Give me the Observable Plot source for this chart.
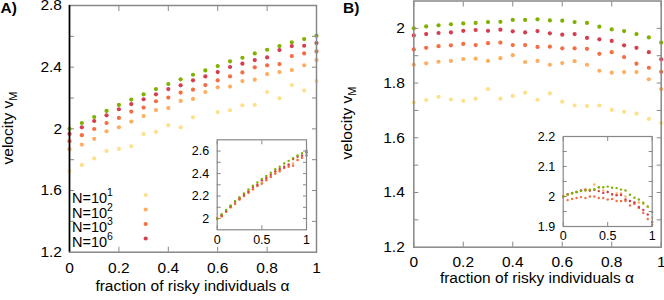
<!DOCTYPE html>
<html><head><meta charset="utf-8">
<script src="https://cdn.jsdelivr.net/npm/d3@7"></script>
<script src="https://cdn.jsdelivr.net/npm/@observablehq/plot@0.6"></script>
<style>
body{margin:0;background:#fff;font-family:"Liberation Sans",Arial,sans-serif;}
#wrap{position:relative;width:664px;height:300px;overflow:hidden;}
#wrap > svg{position:absolute;}
</style></head><body><div id="wrap"></div>
<script>
const alpha = [0,0.05,0.1,0.15,0.2,0.25,0.3,0.35,0.4,0.45,0.5,0.55,0.6,0.65,0.7,0.75,0.8,0.85,0.9,0.95,1];
const seriesNames = ["N1","N2","N3","N6","Ninf"];
const seriesColors = ["#fee08b","#fdae61","#f46d43","#d53e4f","#80b000"];
const legendExp = ["1","2","3","6"];

// Panel A
const A_N1 = [1.726,1.766,1.808,1.857,1.870,1.887,1.967,1.980,2.023,2.010,2.075,null,2.109,2.120,2.153,2.155,2.239,2.198,2.284,2.248,2.310];
const A_N2 = [1.868,1.898,1.935,1.984,2.010,2.047,2.083,2.122,2.135,2.181,2.194,2.239,2.269,2.274,2.310,2.319,2.355,2.368,2.381,2.412,2.446];
const A_N3 = [1.920,1.959,1.999,2.038,2.071,2.112,2.138,2.179,2.203,2.235,2.254,2.284,2.315,2.340,2.366,2.399,2.412,2.420,2.472,2.489,2.502];
const A_N6 = [1.967,2.010,2.051,2.088,2.127,2.161,2.192,2.224,2.258,2.282,2.315,2.340,2.368,2.401,2.423,2.446,2.463,2.511,2.537,2.539,2.556];
const A_Ninf = [2.000,2.038,2.077,2.116,2.155,2.190,2.224,2.258,2.291,2.321,2.351,2.379,2.407,2.438,2.461,2.489,2.513,2.537,2.561,2.582,2.604];
// Inset A
const IA_N2 = [2.0,2.02,2.06,2.10,2.13,2.17,2.20,2.23,2.26,2.29,2.32,2.35,2.37,2.40,2.43,2.45,2.47,2.49,2.52,2.54,2.57];
const IA_N3 = [2.0,2.02,2.06,2.10,2.13,2.17,2.20,2.23,2.26,2.29,2.31,2.34,2.37,2.40,2.42,2.45,2.46,2.47,2.52,2.54,2.56];
const IA_N6 = [2.0,2.03,2.07,2.11,2.15,2.18,2.21,2.24,2.28,2.30,2.34,2.36,2.39,2.42,2.44,2.46,2.48,2.53,2.55,2.56,2.59];
const IA_Ninf = [2.000,2.038,2.077,2.116,2.155,2.190,2.224,2.258,2.291,2.321,2.351,2.379,2.407,2.438,2.461,2.489,2.513,2.537,2.561,2.582,2.604];

// Panel B
const B_N1 = [1.729,1.738,1.750,1.740,1.735,1.743,1.778,1.743,1.753,1.765,1.739,1.762,1.732,1.718,1.716,1.718,1.702,1.695,1.688,1.669,1.654];
const B_N2 = [1.867,1.872,1.878,1.881,1.888,1.889,1.881,1.891,1.902,1.877,1.881,1.867,1.873,1.880,1.867,1.845,1.838,1.840,1.840,1.814,1.778];
const B_N3 = [1.923,1.929,1.935,1.938,1.943,1.939,1.946,1.948,1.939,1.939,1.932,1.933,1.927,1.927,1.925,1.907,1.913,1.895,1.871,1.856,1.841];
const B_N6 = [1.974,1.979,1.983,1.985,1.991,1.994,1.991,1.995,1.989,1.985,1.990,1.982,1.977,1.979,1.965,1.960,1.954,1.938,1.929,1.913,1.887];
const B_Ninf = [2.000,2.007,2.011,2.015,2.018,2.020,2.023,2.024,2.031,2.031,2.033,2.029,2.028,2.023,2.020,2.006,1.996,1.990,1.979,1.967,1.948];
// Inset B
const IB_N2 = [2.0,2.005,2.010,2.015,2.020,2.025,2.020,2.040,2.030,2.020,2.015,2.005,2.010,2.010,2.000,1.985,1.980,1.980,1.975,1.965,1.930];
const IB_N3 = [2.0,1.988,1.992,1.995,1.998,1.995,2.000,2.000,1.995,1.995,1.990,1.992,1.985,1.985,1.985,1.970,1.975,1.962,1.945,1.925,1.905];
const IB_N6 = [2.0,2.008,2.012,2.015,2.020,2.022,2.020,2.022,2.018,2.012,2.015,2.008,2.004,2.005,1.990,1.985,1.980,1.965,1.955,1.940,1.915];
const IB_Ninf = [2.000,2.007,2.011,2.015,2.018,2.020,2.023,2.024,2.031,2.031,2.033,2.029,2.028,2.023,2.020,2.006,1.996,1.990,1.979,1.967,1.948];

// tick labels
const mainXTicks = [0,0.2,0.4,0.6,0.8,1];
const A_yLabels = [1.2,1.6,2,2.4,2.8];
const A_yTicks = [1.4,1.6,1.8,2,2.2,2.4,2.6];
const B_yLabels = [1.2,1.4,1.6,1.8,2];
const B_yTicks = [1.3,1.4,1.5,1.6,1.7,1.8,1.9,2];
const IA_xLabels = [0,0.5,1];
const IA_yLabels = [2,2.2,2.4,2.6];
const IA_yTicks = [2,2.1,2.2,2.3,2.4,2.5,2.6];
const IB_xLabels = [0,0.5,1];
const IB_yLabels = [1.9,2,2.1,2.2];
const IB_yTicks = [1.95,2,2.05,2.1,2.15];

function tidy(list) {
  const rows = [];
  list.forEach((arr, s) => {
    if (!arr) return;
    arr.forEach((v, i) => { if (v != null) rows.push({alpha: alpha[i], v, series: seriesNames[s]}); });
  });
  return rows;
}

const FONT = '"Liberation Sans", Arial, sans-serif';
const GRAY = "#888";

function panel(o) {
  const marks = [];
  if (o.inset) marks.push(Plot.frame({fill: "white", stroke: null}));
  marks.push(
    Plot.axisX({anchor: "bottom", ticks: o.xTicks, tickSize: -o.tick, stroke: GRAY, tickFormat: () => "", label: null}),
    Plot.axisX({anchor: "top", ticks: o.xTicks, tickSize: -o.tick, stroke: GRAY, tickFormat: () => "", label: null}),
    Plot.axisY({anchor: "left", ticks: o.yTicks, tickSize: -o.tick, stroke: GRAY, tickFormat: () => "", label: null}),
    Plot.axisY({anchor: "right", ticks: o.yTicks, tickSize: -o.tick, stroke: GRAY, tickFormat: () => "", label: null}),
    Plot.axisX({anchor: "bottom", ticks: o.xLabels, tickSize: 0, tickPadding: o.xPad, tickFormat: d => String(d), label: null, fontSize: o.fs}),
    Plot.axisY({anchor: "left", ticks: o.yLabels, tickSize: 0, tickPadding: o.yPad, tickFormat: d => String(d), label: null, fontSize: o.fs}),
    Plot.dot(o.data, {x: "alpha", y: "v", fill: "series", r: o.r, stroke: null}),
    Plot.frame({stroke: GRAY, strokeWidth: o.frameW})
  );
  if (o.leftBlack) marks.push(Plot.ruleX([0], {stroke: "black", strokeWidth: 1.6}));
  return Plot.plot({
    width: o.width, height: o.height,
    marginLeft: o.ml, marginRight: o.mr, marginTop: o.mt, marginBottom: o.mb,
    x: {domain: [0, 1]},
    y: {domain: o.yDomain},
    color: {domain: seriesNames, range: seriesColors},
    style: {fontFamily: FONT, fontSize: o.fs + "px", color: "black", background: "transparent", overflow: "visible"},
    marks
  });
}

const wrap = document.getElementById("wrap");
function place(svg, left, top) {
  svg.style.left = left + "px";
  svg.style.top = top + "px";
  wrap.appendChild(svg);
  return svg;
}

// Panel A
const pA = place(panel({
  data: tidy([A_N1, A_N2, A_N3, A_N6, A_Ninf]),
  width: 332, height: 300, ml: 69, mr: 16, mt: 5, mb: 48.3,
  yDomain: [1.2, 2.8], xTicks: mainXTicks, xLabels: mainXTicks, yTicks: A_yTicks, yLabels: A_yLabels,
  tick: 5, xPad: 10, yPad: 7.5, fs: 15.5, r: 2.1, frameW: 1.5, leftBlack: true
}), 0, 0);

// Panel B
const pB = place(panel({
  data: tidy([B_N1, B_N2, B_N3, B_N6, B_Ninf]),
  width: 332, height: 300, ml: 81.3, mr: 3.3, mt: 0.5, mb: 53.3,
  yDomain: [1.2, 2.1], xTicks: mainXTicks, xLabels: mainXTicks, yTicks: B_yTicks, yLabels: B_yLabels,
  tick: 5, xPad: 8.5, yPad: 9, fs: 15.5, r: 2.1, frameW: 1.5
}), 332, 0);

// Inset A
place(panel({
  inset: true,
  data: tidy([null, IA_N2, IA_N3, IA_N6, IA_Ninf]),
  width: 130, height: 120, ml: 36.7, mr: 4, mt: 9.3, mb: 20.7,
  yDomain: [1.9, 2.7], xTicks: IA_xLabels, xLabels: IA_xLabels, yTicks: IA_yTicks, yLabels: IA_yLabels,
  tick: 4, xPad: 5, yPad: 8, fs: 12.5, r: 1.2, frameW: 1.2
}), 180, 130);

// Inset B
place(panel({
  inset: true,
  data: tidy([null, IB_N2, IB_N3, IB_N6, IB_Ninf]),
  width: 140, height: 124, ml: 42.7, mr: 8.3, mt: 10, mb: 24,
  yDomain: [1.9, 2.2], xTicks: IB_xLabels, xLabels: IB_xLabels, yTicks: IB_yTicks, yLabels: IB_yLabels,
  tick: 4, xPad: 5, yPad: 8, fs: 12.5, r: 1.2, frameW: 1.2
}), 520, 126);

// Labels
function addLabels(svg, o) {
  const s = d3.select(svg);
  s.append("text").attr("x", o.px).attr("y", o.py).attr("font-weight", "bold").attr("text-anchor", "start")
    .attr("font-size", 15.5).attr("font-family", FONT).text(o.panel);
  const yl = s.append("text").attr("transform", `translate(${o.yx},${o.yy}) rotate(-90)`)
    .attr("text-anchor", "middle").attr("font-size", 15.5).attr("font-family", FONT);
  yl.append("tspan").text("velocity v");
  yl.append("tspan").attr("font-size", 11).attr("dy", 4).text("M");
  s.append("text").attr("x", o.xx).attr("y", o.xy).attr("text-anchor", "middle")
    .attr("font-size", 15.5).attr("font-family", FONT).text("fraction of risky individuals α");
}
addLabels(pA, {panel: "A)", px: 0.5, py: 13, yx: 13, yy: 128, xx: 192.5, xy: 291});
addLabels(pB, {panel: "B)", px: 11, py: 13, yx: 20, yy: 123, xx: 205, xy: 283});

// Legend (panel A)
const lg = d3.select(pA);
const rowsY = [203, 217.5, 232, 246.5];
legendExp.forEach((e, i) => {
  const t = lg.append("text").attr("x", 72).attr("y", rowsY[i]).attr("text-anchor", "start")
    .attr("font-size", 14.5).attr("font-family", FONT);
  t.append("tspan").text("N=10");
  t.append("tspan").attr("font-size", 10.5).attr("dy", -7).text(e);
  lg.append("circle").attr("cx", 145.7).attr("cy", rowsY[i] - 8).attr("r", 2.1).attr("fill", seriesColors[i]);
});
</script></body></html>
